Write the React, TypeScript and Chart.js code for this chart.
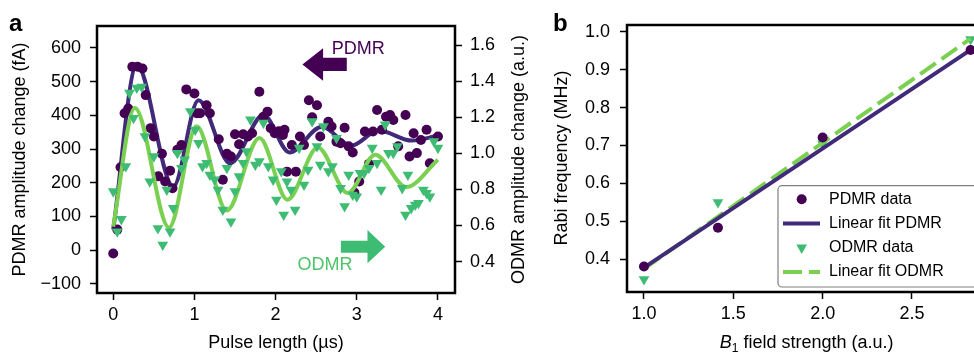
import React, { useEffect, useRef } from "react";
import { Chart, registerables } from "chart.js";
Chart.register(...registerables);

const FAMILY = "'Liberation Sans', Arial, Helvetica, sans-serif";
const PDMR_DOT = "#440154";
const PDMR_FIT = "#412a79";
const ODMR_TRI = "#3fbc73";
const ODMR_FIT = "#7ad151";
const ODMR_TEXT = "#4fc46a";

// ---------- Panel a data ----------
const pdmrX = [0, 0.05, 0.09, 0.14, 0.185, 0.235, 0.3, 0.36, 0.4, 0.46, 0.5, 0.555, 0.6, 0.64, 0.7, 0.73, 0.79, 0.84, 0.9, 1.0, 1.03, 1.07, 1.15, 1.19, 1.3, 1.35, 1.4, 1.45, 1.5, 1.55, 1.6, 1.66, 1.71, 1.8, 1.85, 1.9, 1.94, 1.99, 2.04, 2.09, 2.11, 2.14, 2.2, 2.25, 2.3, 2.35, 2.41, 2.45, 2.51, 2.55, 2.65, 2.69, 2.75, 2.8, 2.85, 2.9, 2.95, 2.97, 3.03, 3.1, 3.15, 3.2, 3.25, 3.31, 3.36, 3.41, 3.45, 3.51, 3.6, 3.65, 3.7, 3.74, 3.79, 3.86, 3.9, 4.0];
const pdmrY = [-10, 61, 246, 406, 420, 544, 544, 539, 460, 362, 337, 219, 286, 204, 236, 184, 298, 312, 477, 465, 406, 406, 430, 406, 329, 209, 286, 278, 344, 314, 344, 337, 347, 470, 396, 411, 362, 347, 353, 342, 357, 233, 312, 233, 337, 312, 445, 394, 430, 337, 381, 367, 322, 317, 363, 308, 290, 171, 204, 352, 256, 352, 416, 357, 396, 401, 386, 308, 401, 278, 347, 288, 327, 357, 258, 337];

const odmrX = [0, 0.05, 0.1, 0.155, 0.2, 0.25, 0.29, 0.35, 0.39, 0.45, 0.5, 0.55, 0.61, 0.66, 0.7, 0.74, 0.79, 0.84, 0.88, 0.95, 1.01, 1.05, 1.1, 1.15, 1.19, 1.25, 1.29, 1.35, 1.4, 1.45, 1.5, 1.55, 1.6, 1.64, 1.69, 1.75, 1.8, 1.85, 1.91, 1.97, 2.01, 2.07, 2.1, 2.14, 2.19, 2.24, 2.29, 2.35, 2.4, 2.45, 2.51, 2.55, 2.59, 2.65, 2.7, 2.75, 2.8, 2.85, 2.9, 2.95, 3.0, 3.04, 3.09, 3.15, 3.19, 3.25, 3.3, 3.35, 3.39, 3.45, 3.5, 3.56, 3.6, 3.63, 3.67, 3.72, 3.76, 3.82, 3.86, 3.9, 3.95, 4.0];
const odmrY = [0.789, 0.567, 0.635, 0.928, 1.335, 1.196, 1.363, 1.369, 1.094, 0.844, 0.983, 0.585, 0.493, 0.798, 0.567, 0.696, 1.002, 0.919, 0.965, 1.233, 1.131, 1.057, 0.928, 0.946, 0.881, 0.854, 0.798, 0.687, 0.919, 0.622, 0.789, 0.872, 0.946, 1.011, 1.187, 0.937, 0.956, 1.169, 0.928, 0.854, 0.743, 0.9, 0.659, 0.844, 0.798, 0.687, 1.03, 0.826, 0.909, 1.178, 1.039, 0.937, 1.15, 0.9, 0.928, 1.085, 0.807, 0.706, 0.881, 0.77, 0.761, 0.891, 0.891, 0.919, 1.03, 0.946, 0.798, 1.159, 1.002, 1.002, 1.039, 0.807, 0.659, 0.881, 0.696, 0.715, 0.724, 0.798, 0.78, 0.761, 1.067, 1.03];

const pdmrFitX = [0, 0.29, 0.74, 1.05, 1.44, 1.85, 2.17, 2.57, 2.93, 3.27, 3.68, 4.0];
const pdmrFitY = [61, 549, 189, 445, 258, 401, 290, 366, 310, 355, 325, 340];
const odmrFitX = [0, 0.267, 0.687, 1.028, 1.398, 1.801, 2.146, 2.52, 2.89, 3.227, 3.609, 4.0];
const odmrFitY = [0.594, 1.252, 0.589, 1.15, 0.683, 1.085, 0.743, 1.033, 0.78, 0.993, 0.813, 0.965];

const pulseTicks = [0, 1, 2, 3, 4];
const pdmrTicks = [-100, 0, 100, 200, 300, 400, 500, 600];
const odmrTicks = [0.4, 0.6, 0.8, 1.0, 1.2, 1.4, 1.6];

// ---------- Panel b data ----------
const b1Field = [1.0, 1.414, 2.0, 2.828];
const rabiPdmr = [0.381, 0.483, 0.721, 0.952];
const rabiOdmr = [0.347, 0.55, 0.704, 0.98];
const fitB1 = [1.0, 2.828];
const fitRabiPdmr = [0.378, 0.952];
const fitRabiOdmr = [0.375, 0.982];
const b1Ticks = [1.0, 1.5, 2.0, 2.5];
const rabiTicks = [0.4, 0.5, 0.6, 0.7, 0.8, 0.9, 1.0];

const pts = (xs: number[], ys: number[]) => xs.map((x, i) => ({ x, y: ys[i] }));
const font = (size: number, weight = "normal", style = "normal") => `${style} ${weight} ${size}px ${FAMILY}`;

function axis(position: string, min: number, max: number, ticksArr: number[], fmt: (v: number) => string, padding: number, size: number) {
  return {
    type: "linear",
    position,
    min,
    max,
    afterBuildTicks: (a: any) => {
      a.ticks = ticksArr.map((v) => ({ value: v }));
    },
    afterFit: (s: any) => {
      if (s.isHorizontal()) s.height = size;
      else s.width = size;
    },
    grid: { display: true, drawOnChartArea: false, drawTicks: true, tickLength: 7, tickWidth: 1.5, tickColor: "#000" },
    border: { display: false },
    ticks: {
      color: "#000",
      font: { family: FAMILY, size: 18 },
      padding,
      autoSkip: false,
      maxRotation: 0,
      minRotation: 0,
      callback: (v: any) => fmt(Number(v)),
    },
  };
}

function drawArrow(ctx: any, tipX: number, y: number, dir: number, total: number, head: number, shaftHalf: number, headHalf: number, color: string) {
  const base = tipX - dir * head;
  const tail = tipX - dir * total;
  ctx.save();
  ctx.fillStyle = color;
  ctx.beginPath();
  ctx.moveTo(tipX, y);
  ctx.lineTo(base, y - headHalf);
  ctx.lineTo(base, y - shaftHalf);
  ctx.lineTo(tail, y - shaftHalf);
  ctx.lineTo(tail, y + shaftHalf);
  ctx.lineTo(base, y + shaftHalf);
  ctx.lineTo(base, y + headHalf);
  ctx.closePath();
  ctx.fill();
  ctx.restore();
}

function rotText(ctx: any, text: string, x: number, y: number, size: number) {
  ctx.save();
  ctx.translate(x, y);
  ctx.rotate(-Math.PI / 2);
  ctx.font = font(size);
  ctx.fillStyle = "#000";
  ctx.textAlign = "center";
  ctx.textBaseline = "middle";
  ctx.fillText(text, 0, 0);
  ctx.restore();
}

const framePlugin = {
  id: "frame",
  afterDraw(chart: any) {
    const { ctx, chartArea: a } = chart;
    ctx.save();
    ctx.strokeStyle = "#000";
    ctx.lineWidth = 2.5;
    ctx.strokeRect(a.left, a.top, a.right - a.left, a.bottom - a.top);
    ctx.restore();
  },
};

const arrowNotes = [
  { label: "PDMR", axis: "yL", tipX: 2.33, tipY: 551, dir: -1, total: 44.4, head: 20.7, shaftHalf: 6.6, headHalf: 16.2, color: PDMR_DOT, textX: 2.693, textY: 597, textColor: PDMR_DOT },
  { label: "ODMR", axis: "yR", tipX: 3.35, tipY: 0.483, dir: 1, total: 44.3, head: 17.7, shaftHalf: 6, headHalf: 16.7, color: ODMR_TRI, textX: 2.269, textY: 0.383, textColor: ODMR_TEXT },
];

const decorA = {
  id: "decorA",
  afterDraw(chart: any) {
    const { ctx, chartArea: a, scales } = chart;
    ctx.save();
    ctx.fillStyle = "#000";
    ctx.font = font(24, "bold");
    ctx.textAlign = "left";
    ctx.textBaseline = "alphabetic";
    ctx.fillText("a", 9, 31);
    const cy = (a.top + a.bottom) / 2;
    rotText(ctx, "PDMR amplitude change (fA)", 20, cy, 18);
    rotText(ctx, "ODMR amplitude change (a.u.)", a.right + 64.5, cy, 18);
    ctx.font = font(18);
    ctx.textAlign = "center";
    ctx.textBaseline = "middle";
    ctx.fillStyle = "#000";
    ctx.fillText("Pulse length (\u00b5s)", (a.left + a.right) / 2, 343);
    for (const n of arrowNotes) {
      const x = scales.x.getPixelForValue(n.tipX);
      const y = scales[n.axis].getPixelForValue(n.tipY);
      drawArrow(ctx, x, y, n.dir, n.total, n.head, n.shaftHalf, n.headHalf, n.color);
      ctx.font = font(18);
      ctx.fillStyle = n.textColor;
      ctx.textAlign = "left";
      ctx.textBaseline = "middle";
      ctx.fillText(n.label, scales.x.getPixelForValue(n.textX), scales[n.axis].getPixelForValue(n.textY));
    }
    ctx.restore();
  },
};

const legendItems = [
  { label: "PDMR data", kind: "dot" },
  { label: "Linear fit PDMR", kind: "line" },
  { label: "ODMR data", kind: "tri" },
  { label: "Linear fit ODMR", kind: "dash" },
];

const decorB = {
  id: "decorB",
  afterDraw(chart: any) {
    const { ctx, chartArea: a, scales } = chart;
    ctx.save();
    ctx.fillStyle = "#000";
    ctx.font = font(24, "bold");
    ctx.textAlign = "left";
    ctx.textBaseline = "alphabetic";
    ctx.fillText("b", 8, 31);
    rotText(ctx, "Rabi frequency (MHz)", 17.5, 158, 18);

    // x title with italic B and subscript 1
    const cx = scales.x.getPixelForValue(1.91);
    const ty = 343;
    const p1 = "B", p2 = "1", p3 = " field strength (a.u.)";
    ctx.font = font(18, "normal", "italic");
    const w1 = ctx.measureText(p1).width;
    ctx.font = font(12);
    const w2 = ctx.measureText(p2).width;
    ctx.font = font(18);
    const w3 = ctx.measureText(p3).width;
    let x0 = cx - (w1 + w2 + w3) / 2;
    ctx.textBaseline = "middle";
    ctx.textAlign = "left";
    ctx.font = font(18, "normal", "italic");
    ctx.fillText(p1, x0, ty);
    x0 += w1;
    ctx.font = font(12);
    ctx.fillText(p2, x0, ty + 6);
    x0 += w2;
    ctx.font = font(18);
    ctx.fillText(p3, x0, ty);

    // legend
    const lx = a.left + 151;
    const ly = a.top + 160.7;
    const lh = 101.3;
    const lw = 300;
    ctx.fillStyle = "#ffffff";
    ctx.strokeStyle = "#808080";
    ctx.lineWidth = 1.2;
    ctx.beginPath();
    const r = 4;
    ctx.moveTo(lx + r, ly);
    ctx.lineTo(lx + lw, ly);
    ctx.lineTo(lx + lw, ly + lh);
    ctx.lineTo(lx + r, ly + lh);
    ctx.arcTo(lx, ly + lh, lx, ly + lh - r, r);
    ctx.lineTo(lx, ly + r);
    ctx.arcTo(lx, ly, lx + r, ly, r);
    ctx.closePath();
    ctx.fill();
    ctx.stroke();
    legendItems.forEach((it, i) => {
      const y = ly + 13.6 + i * 24.2;
      const mx = lx + 23.7;
      if (it.kind === "dot") {
        ctx.fillStyle = PDMR_DOT;
        ctx.beginPath();
        ctx.arc(mx, y, 5, 0, Math.PI * 2);
        ctx.fill();
      } else if (it.kind === "tri") {
        const rr = 6.2;
        ctx.fillStyle = ODMR_TRI;
        ctx.beginPath();
        ctx.moveTo(mx, y + rr);
        ctx.lineTo(mx - rr * 0.866, y - rr / 2);
        ctx.lineTo(mx + rr * 0.866, y - rr / 2);
        ctx.closePath();
        ctx.fill();
      } else {
        ctx.strokeStyle = it.kind === "line" ? PDMR_FIT : ODMR_FIT;
        ctx.lineWidth = 4;
        ctx.setLineDash(it.kind === "dash" ? [19, 7] : []);
        ctx.beginPath();
        ctx.moveTo(lx + 5, y);
        ctx.lineTo(lx + 42, y);
        ctx.stroke();
        ctx.setLineDash([]);
      }
      ctx.fillStyle = "#000";
      ctx.font = font(16);
      ctx.textAlign = "left";
      ctx.textBaseline = "middle";
      ctx.fillText(it.label, lx + 51, y);
    });
    ctx.restore();
  },
};

export default function App() {
  const refA = useRef<HTMLCanvasElement>(null);
  const refB = useRef<HTMLCanvasElement>(null);

  useEffect(() => {
    const fmt0 = (v: number) => (v < 0 ? "\u2212" + Math.abs(v) : String(v));
    const fmt1 = (v: number) => v.toFixed(1);
    const chartA = new Chart(refA.current as HTMLCanvasElement, {
      type: "line",
      data: {
        datasets: [
          {
            label: "ODMR data",
            data: pts(odmrX, odmrY),
            yAxisID: "yR",
            showLine: false,
            pointStyle: "triangle",
            pointRotation: 180,
            pointRadius: 6.2,
            pointBackgroundColor: ODMR_TRI,
            pointBorderWidth: 0,
            order: 0,
          },
          {
            label: "ODMR fit",
            data: pts(odmrFitX, odmrFitY),
            yAxisID: "yR",
            borderColor: ODMR_FIT,
            borderWidth: 4,
            pointRadius: 0,
            cubicInterpolationMode: "monotone",
            fill: false,
            order: 1,
          },
          {
            label: "PDMR data",
            data: pts(pdmrX, pdmrY),
            yAxisID: "yL",
            showLine: false,
            pointStyle: "circle",
            pointRadius: 5,
            pointBackgroundColor: PDMR_DOT,
            pointBorderWidth: 0,
            order: 2,
          },
          {
            label: "PDMR fit",
            data: pts(pdmrFitX, pdmrFitY),
            yAxisID: "yL",
            borderColor: PDMR_FIT,
            borderWidth: 4,
            pointRadius: 0,
            cubicInterpolationMode: "monotone",
            fill: false,
            order: 3,
          },
        ] as any,
      },
      options: {
        animation: false,
        responsive: false,
        maintainAspectRatio: false,
        devicePixelRatio: 1,
        events: [],
        layout: { padding: { left: 0, top: 26, right: 0, bottom: 0 } },
        plugins: { legend: { display: false }, tooltip: { enabled: false } },
        scales: {
          x: axis("bottom", -0.2, 4.21, pulseTicks, (v) => String(v), 4, 60),
          yL: axis("left", -127, 665, pdmrTicks, fmt0, 9, 97),
          yR: axis("right", 0.226, 1.706, odmrTicks, fmt1, 8, 90),
        } as any,
      },
      plugins: [framePlugin, decorA],
    } as any);

    const chartB = new Chart(refB.current as HTMLCanvasElement, {
      type: "line",
      data: {
        datasets: [
          {
            label: "PDMR data",
            data: pts(b1Field, rabiPdmr),
            showLine: false,
            pointStyle: "circle",
            pointRadius: 5,
            pointBackgroundColor: PDMR_DOT,
            pointBorderWidth: 0,
            order: 0,
          },
          {
            label: "Linear fit PDMR",
            data: pts(fitB1, fitRabiPdmr),
            borderColor: PDMR_FIT,
            borderWidth: 4,
            pointRadius: 0,
            fill: false,
            order: 1,
          },
          {
            label: "Linear fit ODMR",
            data: pts(fitB1, fitRabiOdmr),
            borderColor: ODMR_FIT,
            borderWidth: 4,
            borderDash: [19, 7],
            pointRadius: 0,
            fill: false,
            order: 2,
          },
          {
            label: "ODMR data",
            data: pts(b1Field, rabiOdmr),
            showLine: false,
            pointStyle: "triangle",
            pointRotation: 180,
            pointRadius: 6.2,
            pointBackgroundColor: ODMR_TRI,
            pointBorderWidth: 0,
            order: 3,
          },
        ] as any,
      },
      options: {
        animation: false,
        responsive: false,
        maintainAspectRatio: false,
        devicePixelRatio: 1,
        events: [],
        layout: { padding: { left: 0, top: 25, right: 12.6, bottom: 0 } },
        plugins: { legend: { display: false }, tooltip: { enabled: false } },
        scales: {
          x: axis("bottom", 0.905, 2.95, b1Ticks, fmt1, 4, 61),
          y: axis("left", 0.3137, 1.0177, rabiTicks, fmt1, 10, 82),
        } as any,
      },
      plugins: [framePlugin, decorB],
    } as any);

    return () => {
      chartA.destroy();
      chartB.destroy();
    };
  }, []);

  return (
    <div style={{ position: "fixed", left: 0, top: 0, width: 974, height: 353, overflow: "hidden", background: "#fff" }}>
      <canvas ref={refA} width={545} height={353} style={{ position: "absolute", left: 0, top: 0 }} />
      <canvas ref={refB} width={460} height={353} style={{ position: "absolute", left: 545, top: 0 }} />
    </div>
  );
}
